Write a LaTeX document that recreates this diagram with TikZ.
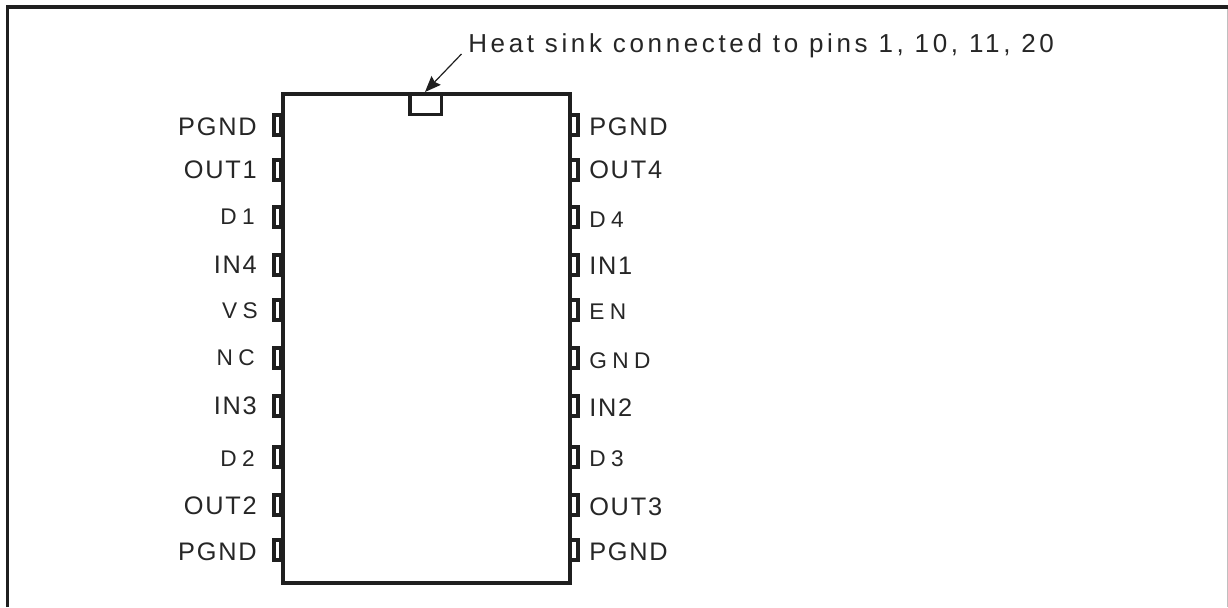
\documentclass[tikz,border=0pt]{standalone}
\usepackage{fontspec}
\setmainfont[LetterSpace=7]{Liberation Sans}
\newfontfamily\widelabel[LetterSpace=24]{Liberation Sans}
\newfontfamily\headlabel[LetterSpace=14]{Liberation Sans}
\usetikzlibrary{arrows.meta}
\tikzset{
  pinbox/.style={draw=black!88,line width=2.6pt,fill=white,minimum width=6.25pt,minimum height=15pt,inner sep=0pt},
  pinlabel/.style={inner sep=0pt,font=\fontsize{19}{22}\selectfont,text=black!85},
  widepin/.style={pinlabel,font=\fontsize{17}{20}\selectfont\widelabel},
}

\begin{document}
\begin{tikzpicture}[x=0.75pt,y=0.75pt,yscale=-1,xscale=1]
    \useasboundingbox (0,0) rectangle (1228,607);

    % Frame
    \draw [line width=1.9pt,black!88] (7.5,607) -- (7.5,6);
    \draw [line width=2.3pt,black!88] (6.2,7) -- (1228,7);
    \draw [line width=0.8pt,black!25] (1227.3,9) -- (1227.3,607);

    % Body
    \draw [line width=3pt,black!88] (283,94) rectangle (569.5,583);
    % Heat sink
    \draw [line width=2.6pt,black!88] (410,94) rectangle (441.5,114.5);

    % Left pins
    \foreach \nm/\py in {la/125,lb/170,lc/217,ld/265,le/310,lf/358,lg/406,lh/457,li/505,lj/550}
      \node [pinbox,minimum width=5pt] (\nm) at (277.5,\py) {};
    % Right pins
    \foreach \nm/\py in {ra/125,rb/170,rc/217,rd/265,re/310,rf/358,rg/406,rh/457,ri/505,rj/550}
      \node [pinbox] (\nm) at (574,\py) {};

    % Text Node
    \foreach \nm/\py/\txt in {tla/127/PGND,tlb/170/OUT1,tld/265/IN4,tlg/406/IN3,tli/506/OUT2,tlj/552/PGND}
      \node [pinlabel,anchor=east] (\nm) at (257,\py) {\txt};
    \foreach \nm/\py/\txt in {tlc/217/D1,tlf/358/NC,tlh/459/D2}
      \node [widepin,anchor=east] (\nm) at (255,\py) {\txt};
    \node [widepin,anchor=east] (tle) at (258,311) {VS};
    % Text Node
    \foreach \nm/\py/\txt in {tra/127/PGND,trb/170/OUT4,trd/266/IN1,trg/408/IN2,tri/507/OUT3,trj/552/PGND}
      \node [pinlabel,anchor=west] (\nm) at (589,\py) {\txt};
    \foreach \nm/\py/\txt in {trc/220/D4,tre/312/EN,trf/361/GND,trh/459/D3}
      \node [widepin,anchor=west] (\nm) at (589,\py) {\txt};
    % Text Node
    \node [pinlabel,font=\fontsize{19.5}{22}\selectfont\headlabel,anchor=base west] (heatsink) at (468,52) {Heat sink connected to pins 1, 10, 11, 20};

    \coordinate (leader) at (461.5,54);
    \coordinate (sinktop) at (425,92);
    \draw [-{Stealth[length=12pt,width=9.5pt,inset=1.5pt]},line width=0.9pt,black!88] (leader) -- (sinktop);
\end{tikzpicture}
\end{document}
